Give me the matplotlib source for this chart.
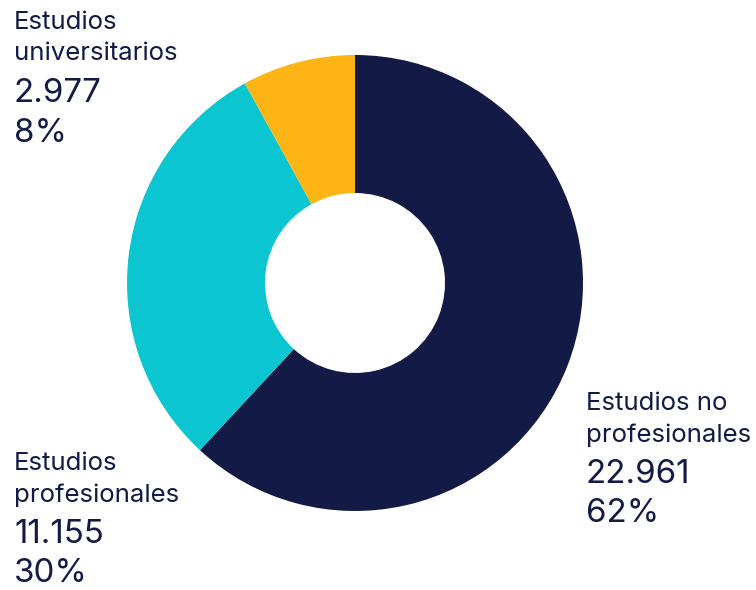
import matplotlib
matplotlib.use("Agg")
import matplotlib.pyplot as plt

categories = ["Estudios no\nprofesionales", "Estudios\nprofesionales", "Estudios\nuniversitarios"]
values = [22961, 11155, 2977]
value_labels = ["22.961", "11.155", "2.977"]
pct_labels = ["62%", "30%", "8%"]
colors = ["#121A45", "#0BC5D1", "#FDB515"]
text_color = "#121A45"

W, H = 756, 590
fig = plt.figure(figsize=(W / 100, H / 100), dpi=100)

# donut: centre (355, 283) px from top, outer radius 228 px
cx, cy, r = 355, 283, 228
ax = fig.add_axes([(cx - r) / W, (H - cy - r) / H, 2 * r / W, 2 * r / H])
ax.pie(values, colors=colors, startangle=90, counterclock=False,
       radius=1, wedgeprops=dict(width=1 - 90 / 228, linewidth=0))
ax.set_xlim(-1, 1)
ax.set_ylim(-1, 1)
ax.set_aspect("equal")
ax.axis("off")

# label blocks: x, baselines of the four lines (px from top)
positions = [
    (586, [410, 442, 483, 522]),
    (14, [470, 502, 543, 582]),
    (14, [29, 60, 102, 142]),
]

for cat, val, pct, (x, ys) in zip(categories, value_labels, pct_labels, positions):
    lines = cat.split("\n")
    for line, y in zip(lines, ys[:2]):
        fig.text(x / W, 1 - y / H, line, fontsize=18.6, color=text_color,
                 family="Inter", va="baseline", ha="left")
    fig.text(x / W, 1 - ys[2] / H, val, fontsize=23.8, color=text_color,
             family="Inter", va="baseline", ha="left")
    fig.text(x / W, 1 - ys[3] / H, pct, fontsize=23.8, color=text_color,
             family="Inter", va="baseline", ha="left")

fig.savefig("out.png", dpi=100)
